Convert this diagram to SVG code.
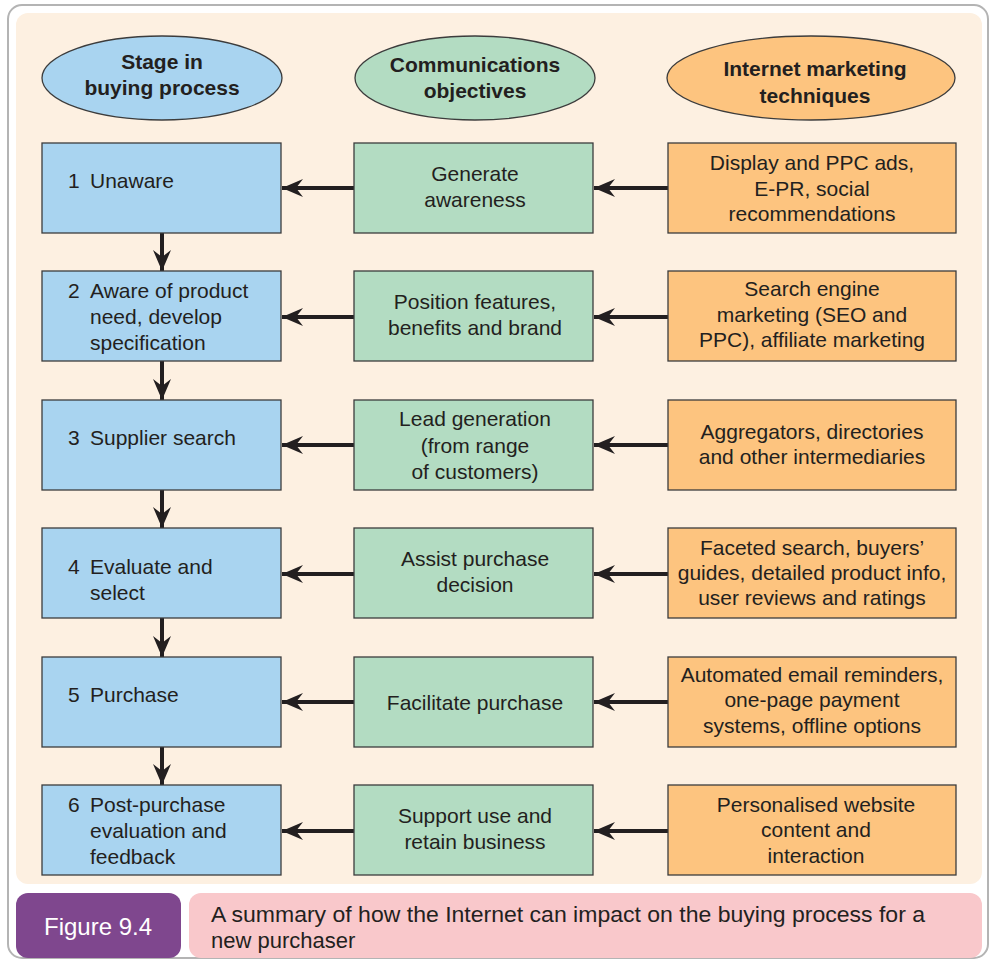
<svg xmlns="http://www.w3.org/2000/svg" width="992" height="960" viewBox="0 0 992 960">
  <style>
    text { font-family: "Liberation Sans", Arial, Helvetica, sans-serif; fill: #231f20; }
    .hd { font-size: 21px; font-weight: bold; text-anchor: middle; }
    .bx { font-size: 21px; }
    .c { text-anchor: middle; }
    .blue { fill: #a9d4f0; stroke: #3c3c3c; stroke-width: 1.3; }
    .green { fill: #b3dcc2; stroke: #3c3c3c; stroke-width: 1.3; }
    .orange { fill: #fdc47f; stroke: #3c3c3c; stroke-width: 1.3; }
    .arrow { stroke: #231f20; stroke-width: 4; fill: none; marker-end: url(#head); }
  </style>
  <defs>
    <marker id="head" markerUnits="userSpaceOnUse" markerWidth="24" markerHeight="22" viewBox="-22 -11 24 22" refX="0" refY="0" orient="auto">
      <path d="M0,0 L-21,-9 L-14,0 L-21,9 Z" fill="#231f20"/>
    </marker>
  </defs>

  <!-- frame and panel -->
  <rect x="8" y="5" width="980" height="953" rx="14" fill="#ffffff" stroke="#b4b4b4" stroke-width="2"/>
  <rect x="16" y="13" width="966" height="871" rx="12" fill="#fdf0e1"/>

  <!-- column headers -->
  <g id="head-stage">
    <ellipse cx="162" cy="78" rx="120" ry="42" class="blue"/>
    <text class="hd" x="162" y="69">Stage in</text>
    <text class="hd" x="162" y="95">buying process</text>
  </g>
  <g id="head-objectives">
    <ellipse cx="475" cy="78" rx="120" ry="42" class="green"/>
    <text class="hd" x="475" y="72">Communications</text>
    <text class="hd" x="475" y="98">objectives</text>
  </g>
  <g id="head-techniques">
    <ellipse cx="811" cy="78" rx="144" ry="42" class="orange"/>
    <text class="hd" x="815" y="76">Internet marketing</text>
    <text class="hd" x="815" y="103">techniques</text>
  </g>

  <!-- connectors -->
  <g id="connectors">
    <line class="arrow" x1="162" y1="233" x2="162" y2="271"/>
    <line class="arrow" x1="162" y1="361" x2="162" y2="400"/>
    <line class="arrow" x1="162" y1="490" x2="162" y2="528"/>
    <line class="arrow" x1="162" y1="618" x2="162" y2="657"/>
    <line class="arrow" x1="162" y1="747" x2="162" y2="785"/>

    <line class="arrow" x1="354" y1="188" x2="282" y2="188"/>
    <line class="arrow" x1="668" y1="188" x2="594" y2="188"/>
    <line class="arrow" x1="354" y1="317" x2="282" y2="317"/>
    <line class="arrow" x1="668" y1="317" x2="594" y2="317"/>
    <line class="arrow" x1="354" y1="445" x2="282" y2="445"/>
    <line class="arrow" x1="668" y1="445" x2="594" y2="445"/>
    <line class="arrow" x1="354" y1="574" x2="282" y2="574"/>
    <line class="arrow" x1="668" y1="574" x2="594" y2="574"/>
    <line class="arrow" x1="354" y1="702" x2="282" y2="702"/>
    <line class="arrow" x1="668" y1="702" x2="594" y2="702"/>
    <line class="arrow" x1="354" y1="831" x2="282" y2="831"/>
    <line class="arrow" x1="668" y1="831" x2="594" y2="831"/>
  </g>

  <!-- row 1 -->
  <g id="stage-1">
    <rect x="42" y="143" width="239" height="90" class="blue"/>
    <text class="bx" x="68" y="188">1<tspan x="90">Unaware</tspan></text>
  </g>
  <g id="objective-1">
    <rect x="354" y="143" width="239" height="90" class="green"/>
    <text class="bx c" x="475" y="181">Generate</text>
    <text class="bx c" x="475" y="207">awareness</text>
  </g>
  <g id="technique-1">
    <rect x="668" y="143" width="288" height="90" class="orange"/>
    <text class="bx c" x="812" y="170">Display and PPC ads,</text>
    <text class="bx c" x="812" y="196">E-PR, social</text>
    <text class="bx c" x="812" y="221">recommendations</text>
  </g>

  <!-- row 2 -->
  <g id="stage-2">
    <rect x="42" y="271" width="239" height="90" class="blue"/>
    <text class="bx" x="68" y="298">2<tspan x="90">Aware of product</tspan></text>
    <text class="bx" x="90" y="324">need, develop</text>
    <text class="bx" x="90" y="350">specification</text>
  </g>
  <g id="objective-2">
    <rect x="354" y="271" width="239" height="90" class="green"/>
    <text class="bx c" x="475" y="309">Position features,</text>
    <text class="bx c" x="475" y="335">benefits and brand</text>
  </g>
  <g id="technique-2">
    <rect x="668" y="271" width="288" height="90" class="orange"/>
    <text class="bx c" x="812" y="296">Search engine</text>
    <text class="bx c" x="812" y="322">marketing (SEO and</text>
    <text class="bx c" x="812" y="347">PPC), affiliate marketing</text>
  </g>

  <!-- row 3 -->
  <g id="stage-3">
    <rect x="42" y="400" width="239" height="90" class="blue"/>
    <text class="bx" x="68" y="445">3<tspan x="90">Supplier search</tspan></text>
  </g>
  <g id="objective-3">
    <rect x="354" y="400" width="239" height="90" class="green"/>
    <text class="bx c" x="475" y="426">Lead generation</text>
    <text class="bx c" x="475" y="453">(from range</text>
    <text class="bx c" x="475" y="479">of customers)</text>
  </g>
  <g id="technique-3">
    <rect x="668" y="400" width="288" height="90" class="orange"/>
    <text class="bx c" x="812" y="439">Aggregators, directories</text>
    <text class="bx c" x="812" y="464">and other intermediaries</text>
  </g>

  <!-- row 4 -->
  <g id="stage-4">
    <rect x="42" y="528" width="239" height="90" class="blue"/>
    <text class="bx" x="68" y="574">4<tspan x="90">Evaluate and</tspan></text>
    <text class="bx" x="90" y="600">select</text>
  </g>
  <g id="objective-4">
    <rect x="354" y="528" width="239" height="90" class="green"/>
    <text class="bx c" x="475" y="566">Assist purchase</text>
    <text class="bx c" x="475" y="592">decision</text>
  </g>
  <g id="technique-4">
    <rect x="668" y="528" width="288" height="90" class="orange"/>
    <text class="bx c" x="812" y="555">Faceted search, buyers’</text>
    <text class="bx c" x="812" y="580">guides, detailed product info,</text>
    <text class="bx c" x="812" y="605">user reviews and ratings</text>
  </g>

  <!-- row 5 -->
  <g id="stage-5">
    <rect x="42" y="657" width="239" height="90" class="blue"/>
    <text class="bx" x="68" y="702">5<tspan x="90">Purchase</tspan></text>
  </g>
  <g id="objective-5">
    <rect x="354" y="657" width="239" height="90" class="green"/>
    <text class="bx c" x="475" y="710">Facilitate purchase</text>
  </g>
  <g id="technique-5">
    <rect x="668" y="657" width="288" height="90" class="orange"/>
    <text class="bx c" x="812" y="682">Automated email reminders,</text>
    <text class="bx c" x="812" y="707">one-page payment</text>
    <text class="bx c" x="812" y="733">systems, offline options</text>
  </g>

  <!-- row 6 -->
  <g id="stage-6">
    <rect x="42" y="785" width="239" height="90" class="blue"/>
    <text class="bx" x="68" y="812">6<tspan x="90">Post-purchase</tspan></text>
    <text class="bx" x="90" y="838">evaluation and</text>
    <text class="bx" x="90" y="864">feedback</text>
  </g>
  <g id="objective-6">
    <rect x="354" y="785" width="239" height="90" class="green"/>
    <text class="bx c" x="475" y="823">Support use and</text>
    <text class="bx c" x="475" y="849">retain business</text>
  </g>
  <g id="technique-6">
    <rect x="668" y="785" width="288" height="90" class="orange"/>
    <text class="bx c" x="816" y="812">Personalised website</text>
    <text class="bx c" x="816" y="837">content and</text>
    <text class="bx c" x="816" y="863">interaction</text>
  </g>

  <!-- caption -->
  <g id="caption">
    <rect x="16" y="893" width="165" height="65" rx="12" fill="#7f478e"/>
    <text x="98" y="935" text-anchor="middle" style="font-size:24px; fill:#ffffff;">Figure 9.4</text>
    <rect x="189" y="893" width="793" height="65" rx="12" fill="#f9c8cb"/>
    <text x="211" y="922" style="font-size:22px;" textLength="714" lengthAdjust="spacingAndGlyphs">A summary of how the Internet can impact on the buying process for a</text>
    <text x="211" y="948" style="font-size:22px;">new purchaser</text>
  </g>
</svg>
